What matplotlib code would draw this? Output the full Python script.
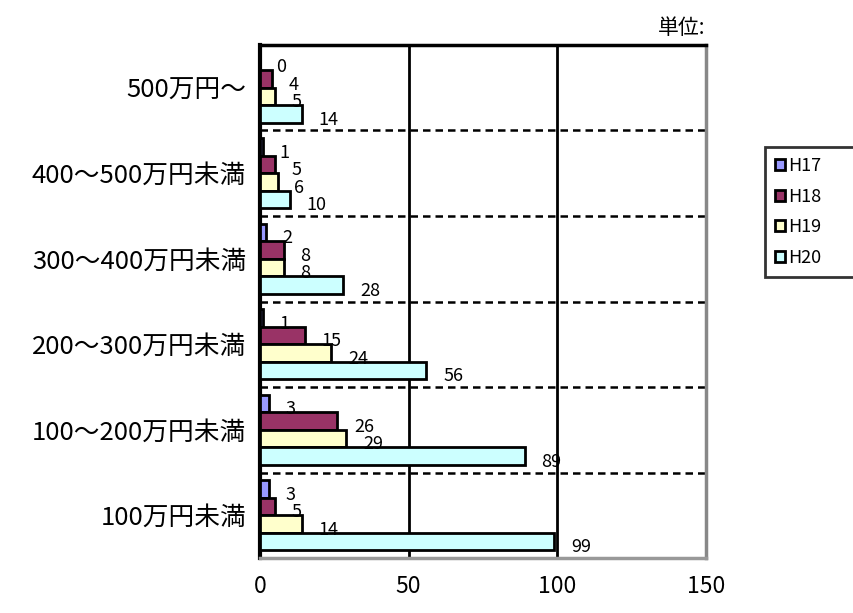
import numpy as np
import matplotlib.pyplot as plt

plt.rcParams['font.family'] = ['Noto Sans CJK JP', 'DejaVu Sans']

# 所得階層（上から順）
categories = ['500万円～', '400～500万円未満', '300～400万円未満',
              '200～300万円未満', '100～200万円未満', '100万円未満']
series = ['H17', 'H18', 'H19', 'H20']
h17 = [0, 1, 2, 1, 3, 3]
h18 = [4, 5, 8, 15, 26, 5]
h19 = [5, 6, 8, 24, 29, 14]
h20 = [14, 10, 28, 56, 89, 99]
colors = ['#9999FF', '#993366', '#FFFFCC', '#CCFFFF']
xticks = [0, 50, 100, 150]

fig = plt.figure(figsize=(8.54, 6.13), dpi=100)
ax = fig.add_axes([0.3044, 0.0897, 0.5222, 0.8369])

n = len(categories)
y = np.arange(n)
bar_h = 0.205
data = [h17, h18, h19, h20]
for i, (vals, c, name) in enumerate(zip(data, colors, series)):
    pos = y + (i - 1.5) * bar_h
    ax.barh(pos, vals, height=bar_h, color=c, edgecolor='black',
            linewidth=2, label=name, zorder=3)
    for p, v in zip(pos, vals):
        ax.annotate(str(v), (v, p), xytext=(12, -4), textcoords='offset points',
                    ha='left', va='center', fontsize=13, zorder=4)

ax.set_ylim(n - 0.5, -0.5)
ax.set_xlim(0, 150)
ax.set_yticks(y)
ax.set_yticklabels(categories, fontsize=18.5)
ax.set_xticks(xticks)
ax.set_xticklabels([str(t) for t in xticks], fontsize=16.5)
ax.tick_params(axis='y', length=0, pad=10)
ax.tick_params(axis='x', length=0, pad=12)

# 目盛線
for t in xticks[1:3]:
    ax.axvline(t, color='black', linewidth=2, zorder=1)
for k in range(n - 1):
    ax.axhline(k + 0.5, color='black', linewidth=1.8, linestyle=(0, (3, 2)), zorder=1)

ax.spines['left'].set_linewidth(3)
ax.spines['left'].set_color('black')
ax.spines['top'].set_linewidth(2.5)
ax.spines['top'].set_color('black')
ax.spines['right'].set_linewidth(2.5)
ax.spines['right'].set_color('#888888')
ax.spines['bottom'].set_linewidth(2.5)
ax.spines['bottom'].set_color('#999999')

leg = ax.legend(loc='upper left', bbox_to_anchor=(1.1323, 0.0, 0.258, 0.801),
                mode='expand', borderaxespad=0, fontsize=13,
                frameon=True, fancybox=False, edgecolor='black',
                handlelength=0.55, handleheight=0.55, handletextpad=0.2,
                labelspacing=0.7, borderpad=0.55)
leg.get_frame().set_linewidth(2)

fig.text(0.826, 0.955, '単位:', ha='right', va='center', fontsize=15)

plt.savefig('out.png', dpi=100)
